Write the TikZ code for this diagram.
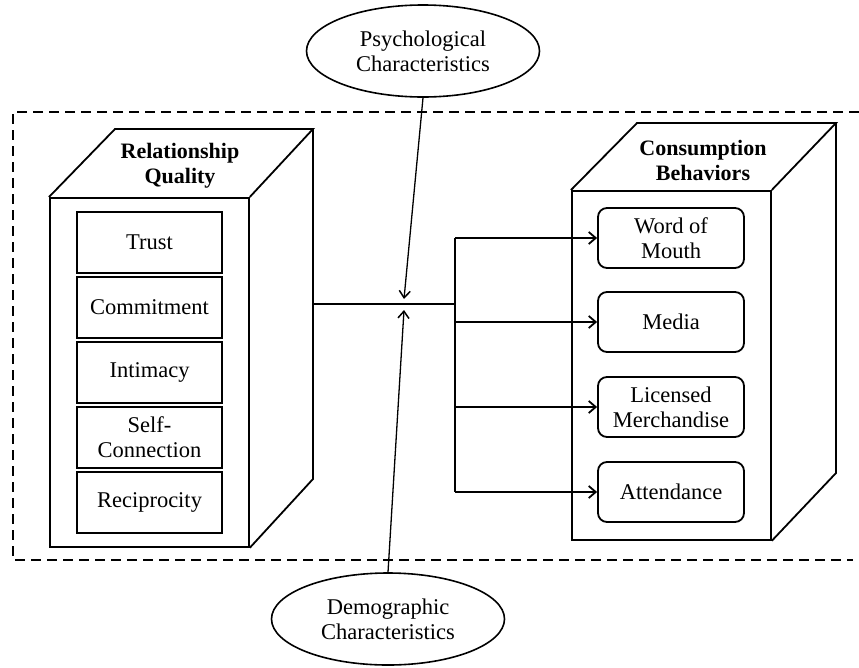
\documentclass[tikz,border=0pt]{standalone}
\usepackage{fontspec}
\setmainfont{Liberation Serif}
\usetikzlibrary{shapes.geometric,arrows.meta}
\begin{document}
\begin{tikzpicture}[x=1pt,y=-1pt,line width=1.8pt,line join=miter,
  txt/.style={font=\fontsize{22.5}{25}\selectfont,align=center},
  ttl/.style={font=\fontsize{22}{25}\selectfont\bfseries,align=center},
  item/.style={draw,minimum width=145pt,minimum height=61pt,inner sep=0pt,txt},
  ritem/.style={draw,rounded corners=9pt,minimum width=146pt,minimum height=60pt,inner sep=0pt,txt},
  oval/.style={draw,ellipse,line width=1.6pt,minimum width=233pt,minimum height=92pt,inner sep=0pt,txt},
  arr/.style={-{Straight Barb[length=7pt,width=12pt,line width=1.8pt]}},
  thinarr/.style={line width=1.3pt,-{Straight Barb[length=7pt,width=11pt,line width=1.5pt]}},
  frame/.style={dash pattern=on 10pt off 6pt,line width=1.6pt}]
\useasboundingbox (0,0) rectangle (859,667);
% dashed frame (open on the right)
\draw[frame] (859,112) -- (13,112) -- (13,560) -- (853,560);
% left cube
\node[draw,minimum width=199pt,minimum height=349pt,inner sep=0pt,anchor=north west] (rqf) at (49,197) {};
\coordinate (rqbl) at (115,129);
\coordinate (rqbr) at (313,129);
\coordinate (rqbb) at (313,479);
\draw (rqf.north west) -- (rqbl) -- (rqbr) -- (rqf.north east);
\draw (rqbr) -- (rqbb) -- (rqf.south east);
\node[ttl] (rqt) at (180,166) {Relationship\\Quality};
\node[item] (trust) at (149.5,242.5) {Trust};
\node[item] (comm) at (149.5,307.5) {Commitment};
\node[item] (inti) at (149.5,372.5) {Intimacy};
\node[item] (self) at (149.5,437.5) {Self-\\Connection};
\node[item] (reci) at (149.5,502.5) {Reciprocity};
% right cube
\node[draw,minimum width=199pt,minimum height=349pt,inner sep=0pt,anchor=north west] (cbf) at (571,190) {};
\coordinate (cbbl) at (637,123);
\coordinate (cbbr) at (836,123);
\coordinate (cbbb) at (836,473);
\draw (cbf.north west) -- (cbbl) -- (cbbr) -- (cbf.north east);
\draw (cbbr) -- (cbbb) -- (cbf.south east);
\node[ttl] (cbt) at (703,160) {Consumption\\Behaviors};
\node[ritem] (wom) at (671,238) {Word of\\Mouth};
\node[ritem] (media) at (671,322) {Media};
\node[ritem] (lic) at (671,407) {Licensed\\Merchandise};
\node[ritem] (att) at (671,492) {Attendance};
% ellipses
\node[oval] (psy) at (423,51) {Psychological\\Characteristics};
\node[oval] (demo) at (388,619) {Demographic\\Characteristics};
% connectors
\coordinate (rqout) at (313,304);
\coordinate (j) at (455,304);
\coordinate (tipA) at (404,299);
\coordinate (tipB) at (404,310);
\draw (rqout) -- (j);
\draw (j |- wom.west) -- (j |- att.west);
\foreach \n in {wom,media,lic,att} \draw[arr] (j |- \n.west) -- (\n.west);
\draw[thinarr] (psy.south) -- (tipA);
\draw[thinarr] (demo.north) -- (tipB);
\end{tikzpicture}
\end{document}
